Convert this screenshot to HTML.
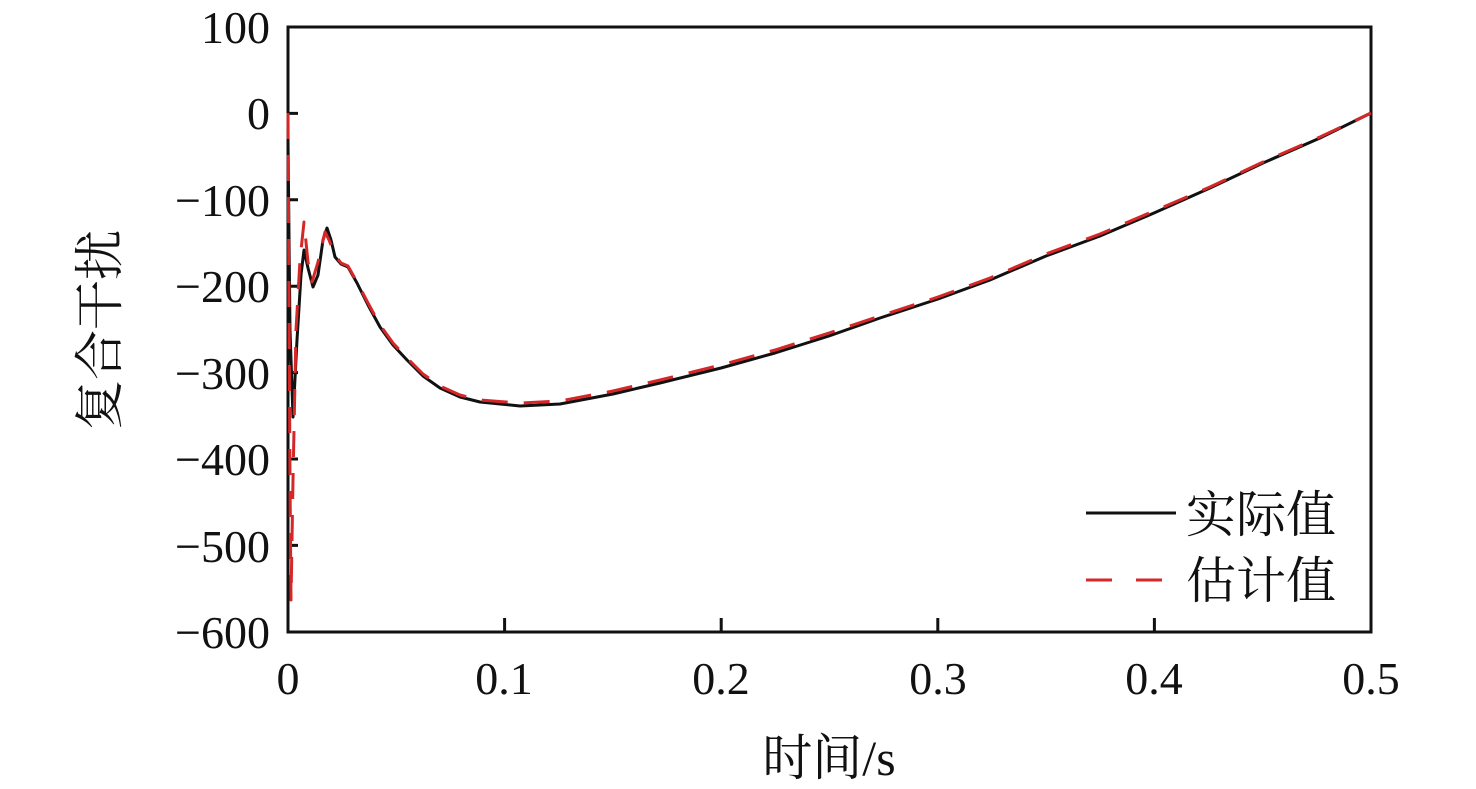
<!DOCTYPE html>
<html><head><meta charset="utf-8"><style>html,body{margin:0;padding:0;background:#fff}svg{display:block}</style></head>
<body>
<svg width="1476" height="789" viewBox="0 0 1476 789" xmlns="http://www.w3.org/2000/svg">
<g font-family="'Liberation Serif','Noto Serif CJK SC',serif" font-size="46" fill="#111">
<text x="270" y="43" text-anchor="end">100</text>
<text x="270" y="129" text-anchor="end">0</text>
<text x="270" y="216" text-anchor="end">−100</text>
<text x="270" y="302" text-anchor="end">−200</text>
<text x="270" y="389" text-anchor="end">−300</text>
<text x="270" y="475" text-anchor="end">−400</text>
<text x="270" y="562" text-anchor="end">−500</text>
<text x="270" y="648" text-anchor="end">−600</text>
<text x="288" y="694" text-anchor="middle">0</text>
<text x="504" y="694" text-anchor="middle">0.1</text>
<text x="721" y="694" text-anchor="middle">0.2</text>
<text x="938" y="694" text-anchor="middle">0.3</text>
<text x="1154" y="694" text-anchor="middle">0.4</text>
<text x="1371" y="694" text-anchor="middle">0.5</text>
<text x="829" y="775" text-anchor="middle" font-size="50">时间/s</text>
<text transform="translate(117,330) rotate(-90)" text-anchor="middle" font-size="50">复合干扰</text>
<text x="1186" y="532" font-size="50">实际值</text>
<text x="1186" y="598" font-size="50">估计值</text>
</g>
<g stroke="#111" stroke-width="3" fill="none">
<rect x="288" y="27" width="1083" height="605"/>
<path d="M288 113.4h10M288 199.8h10M288 286.2h10M288 372.6h10M288 459h10M288 545.4h10M504.6 632v-14M721.2 632v-14M937.8 632v-14M1154.4 632v-14"/>
</g>
<line x1="1086" y1="513" x2="1176" y2="513" stroke="#111" stroke-width="3"/>
<line x1="1086" y1="580" x2="1176" y2="580" stroke="#d62728" stroke-width="3" stroke-dasharray="26,24"/>
<path d="M288 140 L290 330 L293 417 L297 340 L301 275 L304 250 L308 268 L313 287 L318 275 L323 240 L327 228 L331 240 L335 257 L341 264 L348 267 L357 283 L368 305 L380 327 L393 345 L407 360 L423 376 L440 388 L460 397 L480 402 L520 406 L560 404 L613 394 L660 383 L721 368 L775 353 L829 336 L880 318 L938 299 L990 280 L1046 256 L1100 236 L1154 213 L1210 188 L1263 163 L1320 138 L1371 113" fill="none" stroke="#111" stroke-width="3" stroke-linejoin="round"/>
<path d="M288 113 L289 300 L290 480 L291 600 L293 480 L296 330 L300 260 L304 222 L308 262 L312 282 L318 262 L325 232 L329 240 L335 255 L341 263 L348 266 L357 282 L368 303 L380 325 L393 343 L407 358 L423 374 L440 386 L460 395 L480 400 L520 403 L560 401 L613 391 L660 380 L721 365 L775 350 L829 333 L880 316 L938 297 L990 278 L1046 254 L1100 234 L1154 211 L1210 187 L1263 162 L1320 137 L1371 113" fill="none" stroke="#d62728" stroke-width="3" stroke-dasharray="26,16" stroke-linejoin="round"/>
</svg>
</body></html>
